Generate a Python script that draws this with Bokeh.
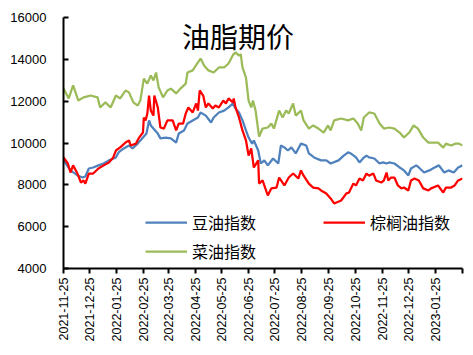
import pandas as pd
from bokeh.plotting import figure
from bokeh.models import (Range1d, FixedTicker, DatetimeTickFormatter, Legend,
                          LegendItem, Label)
from bokeh.embed import file_html
from bokeh.resources import INLINE

# ---------------- data ----------------
title_text = "油脂期价"
series_names = ["豆油指数", "棕榈油指数", "菜油指数"]

soy_dates = ["2021-11-25", "2021-12-03", "2021-12-11", "2021-12-17", "2021-12-20", "2021-12-24",
             "2021-12-29", "2022-01-04", "2022-01-10", "2022-01-16", "2022-01-24", "2022-01-27",
             "2022-02-02", "2022-02-08", "2022-02-12", "2022-02-18", "2022-02-24", "2022-02-28",
             "2022-03-03", "2022-03-05", "2022-03-08", "2022-03-13", "2022-03-16", "2022-03-22",
             "2022-03-28", "2022-04-03", "2022-04-06", "2022-04-12", "2022-04-16", "2022-04-22",
             "2022-04-28", "2022-05-01", "2022-05-07", "2022-05-13", "2022-05-16", "2022-05-22",
             "2022-05-28", "2022-06-02", "2022-06-07", "2022-06-10", "2022-06-14", "2022-06-18",
             "2022-06-22", "2022-06-25", "2022-06-29", "2022-07-01", "2022-07-06", "2022-07-09",
             "2022-07-13", "2022-07-17", "2022-07-23", "2022-07-29", "2022-08-01", "2022-08-05",
             "2022-08-09", "2022-08-13", "2022-08-18", "2022-08-24", "2022-08-30", "2022-09-02",
             "2022-09-08", "2022-09-16", "2022-09-22", "2022-09-27", "2022-10-06", "2022-10-12",
             "2022-10-17", "2022-10-20", "2022-10-26", "2022-10-30", "2022-11-03", "2022-11-07",
             "2022-11-10", "2022-11-16", "2022-11-22", "2022-11-26", "2022-11-30", "2022-12-03",
             "2022-12-09", "2022-12-15", "2022-12-20", "2022-12-25", "2022-12-28", "2023-01-03",
             "2023-01-06", "2023-01-12", "2023-01-18", "2023-01-24", "2023-01-29", "2023-02-04",
             "2023-02-09", "2023-02-15", "2023-02-20", "2023-02-25"]
soy = [9170, 8690, 8450, 8350, 8400, 8780,
       8830, 8930, 9020, 9170, 9310, 9550,
       9740, 9880, 9740, 9970, 10260, 10450,
       11080, 10840, 10690, 10450, 10220, 10260,
       10220, 10020, 10450, 10600, 10930, 11080,
       11220, 11460, 11310, 10980, 11220, 11460,
       11550, 11700, 11890, 11650, 11460, 11080,
       10600, 10260, 9970, 10120, 9640, 9020,
       9170, 8930, 9260, 9020, 9880, 9790,
       9640, 9790, 9500, 9970, 9880, 9500,
       9310, 9170, 9170, 9020, 9170, 9400,
       9550, 9500, 9310, 9070, 9260, 9400,
       9310, 9260, 9020, 9070, 9020, 9070,
       9020, 8830, 8690, 8450, 8780, 8930,
       8830, 8590, 8690, 8830, 8930, 8590,
       8690, 8590, 8830, 8930]

palm_dates = ["2021-11-25", "2021-11-30", "2021-12-03", "2021-12-06", "2021-12-11", "2021-12-15",
              "2021-12-18", "2021-12-20", "2021-12-24", "2021-12-29", "2022-01-04", "2022-01-10",
              "2022-01-16", "2022-01-21", "2022-01-24", "2022-01-29", "2022-02-04", "2022-02-08",
              "2022-02-10", "2022-02-16", "2022-02-19", "2022-02-24", "2022-02-25", "2022-02-27",
              "2022-03-01", "2022-03-03", "2022-03-05", "2022-03-08", "2022-03-09", "2022-03-13",
              "2022-03-16", "2022-03-20", "2022-03-24", "2022-03-30", "2022-04-03", "2022-04-06",
              "2022-04-11", "2022-04-14", "2022-04-17", "2022-04-22", "2022-04-26", "2022-04-28",
              "2022-04-30", "2022-05-04", "2022-05-07", "2022-05-10", "2022-05-15", "2022-05-18",
              "2022-05-22", "2022-05-27", "2022-05-30", "2022-06-02", "2022-06-07", "2022-06-08",
              "2022-06-10", "2022-06-14", "2022-06-18", "2022-06-22", "2022-06-24", "2022-06-25",
              "2022-06-28", "2022-07-01", "2022-07-06", "2022-07-07", "2022-07-11", "2022-07-13",
              "2022-07-17", "2022-07-21", "2022-07-27", "2022-07-30", "2022-08-05", "2022-08-10",
              "2022-08-15", "2022-08-21", "2022-08-24", "2022-08-27", "2022-09-02", "2022-09-07",
              "2022-09-13", "2022-09-16", "2022-09-22", "2022-09-27", "2022-10-01", "2022-10-09",
              "2022-10-15", "2022-10-18", "2022-10-23", "2022-10-26", "2022-10-30", "2022-11-03",
              "2022-11-07", "2022-11-10", "2022-11-15", "2022-11-18", "2022-11-24", "2022-11-27",
              "2022-11-30", "2022-12-02", "2022-12-05", "2022-12-09", "2022-12-13", "2022-12-17",
              "2022-12-20", "2022-12-25", "2022-12-28", "2023-01-01", "2023-01-06", "2023-01-11",
              "2023-01-17", "2023-01-20", "2023-01-28", "2023-02-03", "2023-02-06", "2023-02-12",
              "2023-02-16", "2023-02-20", "2023-02-25"]
palm = [9310, 9020, 8590, 8930, 8540, 8110,
        8210, 8060, 8540, 8540, 8780, 8930,
        9070, 9310, 9640, 9790, 10020, 10120,
        9880, 9970, 10220, 10500, 11220, 11080,
        11410, 12270, 11550, 11310, 12270, 11700,
        10740, 10690, 11080, 11080, 10600, 10930,
        10930, 11410, 11700, 11460, 11890, 11550,
        12510, 12270, 11700, 11890, 11650, 11790,
        11700, 12030, 11890, 12130, 11940, 12130,
        11700, 11220, 10600, 10120, 9640, 9400,
        9740, 8830, 9170, 8060, 8210, 7970,
        7490, 7830, 7870, 8350, 7970, 8350,
        8540, 8300, 8690, 8440, 8060, 7870,
        7830, 7730, 7590, 7350, 7110, 7250,
        7590, 7630, 8060, 7970, 8300, 8210,
        8540, 8440, 8540, 8210, 8110, 8210,
        8590, 8210, 8350, 8350, 7970, 7830,
        7870, 7730, 8210, 8300, 8210, 7830,
        7730, 7830, 7970, 7630, 7870, 7870,
        7970, 8210, 8300]

rape_dates = ["2021-11-25", "2021-12-01", "2021-12-06", "2021-12-12", "2021-12-18", "2021-12-26",
              "2022-01-03", "2022-01-06", "2022-01-12", "2022-01-18", "2022-01-24", "2022-01-29",
              "2022-02-04", "2022-02-08", "2022-02-13", "2022-02-18", "2022-02-21", "2022-02-25",
              "2022-03-01", "2022-03-05", "2022-03-08", "2022-03-11", "2022-03-14", "2022-03-19",
              "2022-03-24", "2022-03-28", "2022-04-03", "2022-04-08", "2022-04-14", "2022-04-16",
              "2022-04-22", "2022-04-28", "2022-05-01", "2022-05-05", "2022-05-10", "2022-05-16",
              "2022-05-22", "2022-05-28", "2022-06-02", "2022-06-07", "2022-06-10", "2022-06-14",
              "2022-06-16", "2022-06-18", "2022-06-22", "2022-06-25", "2022-06-28", "2022-06-30",
              "2022-07-03", "2022-07-07", "2022-07-11", "2022-07-17", "2022-07-21", "2022-07-24",
              "2022-07-30", "2022-08-03", "2022-08-07", "2022-08-10", "2022-08-15", "2022-08-18",
              "2022-08-24", "2022-08-27", "2022-09-02", "2022-09-07", "2022-09-13", "2022-09-19",
              "2022-09-24", "2022-09-27", "2022-10-01", "2022-10-09", "2022-10-17", "2022-10-23",
              "2022-10-28", "2022-11-01", "2022-11-04", "2022-11-10", "2022-11-16", "2022-11-22",
              "2022-11-27", "2022-12-03", "2022-12-09", "2022-12-15", "2022-12-20", "2022-12-26",
              "2022-12-31", "2023-01-05", "2023-01-11", "2023-01-17", "2023-01-23", "2023-01-28",
              "2023-02-03", "2023-02-06", "2023-02-12", "2023-02-17", "2023-02-21", "2023-02-25"]
rape = [12600, 12130, 12750, 12030, 12180, 12270,
        12180, 11700, 11940, 11700, 12270, 12130,
        12510, 12420, 11940, 11790, 12030, 13080,
        12840, 13230, 12990, 13370, 12660, 12180,
        12510, 12600, 12370, 12600, 12840, 13370,
        13470, 13850, 14040, 13700, 13470, 13370,
        13610, 13610, 13800, 14200, 14330, 14180,
        14250, 13610, 13130, 12030, 11700, 12030,
        11550, 10300, 10690, 10740, 10930, 10690,
        11550, 11220, 11550, 11410, 11890, 11310,
        11550, 11080, 10690, 10840, 10690, 10500,
        10840, 10600, 11080, 11170, 11080, 11170,
        10930, 10600, 11220, 11460, 11410, 10930,
        10690, 10740, 10690, 10500, 10260, 10500,
        10840, 10690, 10260, 10020, 10020, 10020,
        9780, 9970, 9880, 9970, 9970, 9880]

tick_dates = ["2021-11-25", "2021-12-25", "2022-01-25", "2022-02-25", "2022-03-25",
              "2022-04-25", "2022-05-25", "2022-06-25", "2022-07-25", "2022-08-25",
              "2022-09-25", "2022-10-25", "2022-11-25", "2022-12-25", "2023-01-25"]
axis_end_date = "2023-02-25"
y_ticks = [4000, 6000, 8000, 10000, 12000, 14000, 16000]


def to_ms(s):
    return pd.Timestamp(s).value / 1e6


colors = ["#4F81BD", "#FF0000", "#9BBB59"]

p = figure(width=465, height=347, x_axis_type="datetime",
           output_backend="svg", toolbar_location=None,
           min_border_left=63, min_border_right=3, min_border_top=17, min_border_bottom=79,
           x_range=Range1d(to_ms(tick_dates[0]), to_ms(axis_end_date)),
           y_range=Range1d(y_ticks[0], y_ticks[-1]))
p.outline_line_color = None
p.grid.visible = False
p.background_fill_color = "white"

r_soy = p.line(pd.to_datetime(soy_dates), soy, line_color=colors[0], line_width=2.25)
r_palm = p.line(pd.to_datetime(palm_dates), palm, line_color=colors[1], line_width=2.25)
r_rape = p.line(pd.to_datetime(rape_dates), rape, line_color=colors[2], line_width=2.25)

# y axis
p.yaxis.ticker = FixedTicker(ticks=y_ticks)
p.yaxis.axis_line_width = 2
p.yaxis.axis_line_color = "black"
p.yaxis.major_tick_in = 5
p.yaxis.major_tick_out = 0
p.yaxis.major_tick_line_width = 2
p.yaxis.minor_tick_line_color = None
p.yaxis.major_label_standoff = 17
p.yaxis.major_label_text_font = "Liberation Sans"
p.yaxis.major_label_text_font_size = "13px"
p.yaxis.major_label_text_color = "black"

# x axis
p.xaxis.ticker = FixedTicker(ticks=[to_ms(d) for d in tick_dates],
                             minor_ticks=[to_ms(axis_end_date)])
fmt = "%Y-%m-%d"
p.xaxis.formatter = DatetimeTickFormatter(microseconds=fmt, milliseconds=fmt, seconds=fmt,
                                          minsec=fmt, minutes=fmt, hourmin=fmt, hours=fmt,
                                          days=fmt, months=fmt, years=fmt)
p.xaxis.major_label_orientation = 3.14159265 / 2
p.xaxis.axis_line_width = 2
p.xaxis.axis_line_color = "black"
p.xaxis.major_tick_in = 0
p.xaxis.major_tick_out = 5
p.xaxis.major_tick_line_width = 2
p.xaxis.minor_tick_in = 0
p.xaxis.minor_tick_out = 5
p.xaxis.minor_tick_line_width = 2
p.xaxis.minor_tick_line_color = "black"
p.xaxis.major_label_standoff = 4
p.xaxis.major_label_text_font = "Liberation Sans"
p.xaxis.major_label_text_font_size = "12.5px"
p.xaxis.major_label_text_color = "black"

# title inside plot
p.add_layout(Label(x=to_ms("2022-06-13"), y=15100, text=title_text,
                   text_font="Noto Sans CJK SC", text_font_size="28px",
                   text_align="center", text_baseline="middle", text_color="black"))

leg_common = dict(label_text_font="Noto Sans CJK SC", label_text_font_size="16px",
                  label_text_color="black", background_fill_alpha=0, border_line_alpha=0,
                  padding=0, margin=0, spacing=5, glyph_height=20, label_height=20,
                  glyph_width=42, label_standoff=5)
leg1 = Legend(items=[LegendItem(label=series_names[0], renderers=[r_soy]),
                     LegendItem(label=series_names[2], renderers=[r_rape])],
              location=(82, 5), **leg_common)
leg2 = Legend(items=[LegendItem(label=series_names[1], renderers=[r_palm])],
              location=(260, 34), **leg_common)
p.add_layout(leg1)
p.add_layout(leg2)

open("out.html", "w").write(file_html(p, INLINE))
